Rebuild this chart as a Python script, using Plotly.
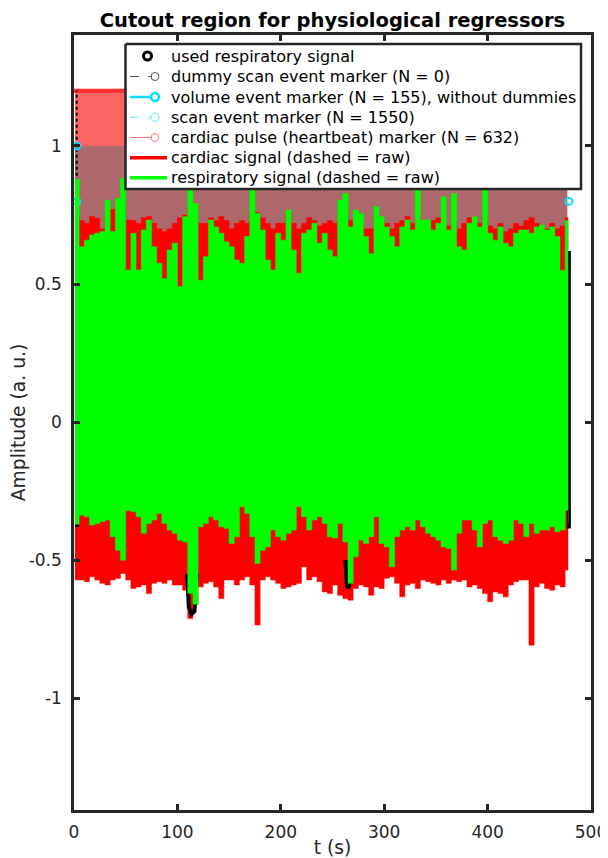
import plotly.graph_objects as go

# ---- sampling grid of the envelopes (s) ----
t_grid = [1, 5, 10, 15, 20, 25, 30, 35, 40, 45, 50, 55, 60, 65, 70, 75, 80, 85, 90, 95,
          100, 105, 110, 115, 120, 125, 130, 135, 140, 145, 150, 155, 160, 165, 170, 175,
          180, 185, 190, 195, 200, 205, 210, 215, 220, 225, 230, 235, 240, 245, 250, 255,
          260, 265, 270, 275, 280, 285, 290, 295, 300, 305, 310, 315, 320, 325, 330, 335,
          340, 345, 350, 355, 360, 365, 370, 375, 380, 385, 390, 395, 400, 405, 410, 415,
          420, 425, 430, 435, 440, 445, 450, 455, 460, 465, 470, 475, 478]

# respiratory signal envelope (green)
resp_upper = [0.88, 0.635, 0.659, 0.678, 0.684, 0.69, 0.804, 0.69, 0.81, 0.883, 0.551, 0.684,
              0.551, 0.696, 0.732, 0.635, 0.575, 0.52, 0.623, 0.648, 0.491, 0.744, 0.853, 0.792,
              0.514, 0.599, 0.732, 0.707, 0.684, 0.653, 0.635, 0.587, 0.575, 0.672, 0.841, 0.756,
              0.696, 0.587, 0.551, 0.684, 0.659, 0.768, 0.623, 0.539, 0.684, 0.696, 0.72, 0.648,
              0.684, 0.623, 0.599, 0.804, 0.828, 0.707, 0.768, 0.756, 0.672, 0.611, 0.78, 0.744,
              0.707, 0.672, 0.635, 0.707, 0.732, 0.696, 0.841, 0.732, 0.732, 0.696, 0.72, 0.816,
              0.696, 0.828, 0.635, 0.623, 0.72, 0.744, 0.707, 0.841, 0.684, 0.659, 0.707, 0.648,
              0.635, 0.684, 0.696, 0.696, 0.684, 0.707, 0.714, 0.696, 0.707, 0.672, 0.55, 0.73, 0.73]
resp_lower = [-0.37, -0.337, -0.343, -0.373, -0.367, -0.36, -0.355, -0.415, -0.464, -0.5, -0.32,
              -0.325, -0.343, -0.403, -0.367, -0.355, -0.331, -0.367, -0.391, -0.403, -0.428,
              -0.434, -0.62, -0.66, -0.379, -0.367, -0.343, -0.355, -0.379, -0.385, -0.44,
              -0.415, -0.307, -0.331, -0.415, -0.512, -0.464, -0.452, -0.391, -0.415, -0.428,
              -0.403, -0.391, -0.307, -0.343, -0.391, -0.355, -0.343, -0.367, -0.415, -0.42,
              -0.367, -0.434, -0.584, -0.488, -0.428, -0.44, -0.415, -0.343, -0.44, -0.452,
              -0.524, -0.415, -0.391, -0.379, -0.391, -0.355, -0.379, -0.403, -0.415, -0.428,
              -0.452, -0.458, -0.536, -0.403, -0.355, -0.355, -0.391, -0.452, -0.367, -0.355,
              -0.415, -0.428, -0.44, -0.428, -0.355, -0.367, -0.415, -0.367, -0.403, -0.391,
              -0.391, -0.379, -0.397, -0.391, -0.319, -0.367]

# cardiac signal envelope (red)
card_upper = [0.75, 0.73, 0.72, 0.745, 0.738, 0.70, 0.745, 0.77, 0.78, 0.80, 0.732, 0.73, 0.72,
              0.74, 0.745, 0.72, 0.70, 0.69, 0.70, 0.72, 0.74, 0.75, 0.78, 0.76, 0.72, 0.72, 0.74,
              0.73, 0.745, 0.73, 0.70, 0.72, 0.73, 0.72, 0.76, 0.76, 0.74, 0.72, 0.70, 0.72, 0.72,
              0.76, 0.72, 0.70, 0.72, 0.74, 0.73, 0.71, 0.72, 0.73, 0.72, 0.76, 0.76, 0.73, 0.72,
              0.72, 0.70, 0.70, 0.74, 0.73, 0.72, 0.70, 0.72, 0.73, 0.745, 0.72, 0.74, 0.73, 0.72,
              0.73, 0.74, 0.72, 0.71, 0.73, 0.70, 0.72, 0.74, 0.73, 0.72, 0.75, 0.71, 0.70, 0.72,
              0.69, 0.70, 0.72, 0.71, 0.73, 0.74, 0.72, 0.71, 0.70, 0.72, 0.70, 0.71, 0.74, 0.74]
card_lower = [-0.572, -0.572, -0.578, -0.56, -0.572, -0.584, -0.59, -0.572, -0.566, -0.548,
              -0.572, -0.603, -0.597, -0.59, -0.621, -0.584, -0.578, -0.584, -0.572, -0.59,
              -0.59, -0.609, -0.711, -0.66, -0.597, -0.584, -0.578, -0.597, -0.639, -0.572,
              -0.572, -0.59, -0.572, -0.56, -0.59, -0.735, -0.572, -0.56, -0.572, -0.584,
              -0.603, -0.597, -0.59, -0.584, -0.524, -0.572, -0.56, -0.578, -0.615, -0.621,
              -0.59, -0.627, -0.639, -0.645, -0.603, -0.59, -0.597, -0.627, -0.597, -0.603,
              -0.566, -0.56, -0.584, -0.633, -0.59, -0.584, -0.603, -0.572, -0.578, -0.584,
              -0.59, -0.572, -0.584, -0.572, -0.578, -0.572, -0.597, -0.59, -0.603, -0.621,
              -0.651, -0.615, -0.621, -0.633, -0.59, -0.578, -0.572, -0.572, -0.808, -0.597,
              -0.584, -0.603, -0.609, -0.59, -0.597, -0.536, -0.536]

# event marker stems (dense, read as bands)
marker_span_t = [1, 477]
cardiac_pulse_level = [1.2, 1.2]
volume_level = [1.0, 1.0]
cyan_marker_t = [2.6, 2.6, 478.6]
cyan_marker_v = [1.0, 0.8, 0.8]
start_line_t = [2.6, 2.6]
start_line_v = [0.74, 1.2]

# used respiratory signal (visible parts)
used_resp_t = [3.0, 3.0, None, 109.5, 111, 113.5, 116.5, 119, None, 262.5, 264, 266, 267.5,
               None, 478.6, 478.6]
used_resp_v = [0.6, -0.38, None, -0.55, -0.67, -0.695, -0.685, -0.55, None, -0.5, -0.595,
               -0.60, -0.5, None, 0.62, -0.385]

legend_names = ["used respiratory signal",
                "dummy scan event marker (N = 0)",
                "volume event marker (N = 155), without dummies",
                "scan event marker (N = 1550)",
                "cardiac pulse (heartbeat) marker (N = 632)",
                "cardiac signal (dashed = raw)",
                "respiratory signal (dashed = raw)"]

FONT = "DejaVu Sans"
DARK = "#262626"
CYAN = "rgb(0,225,255)"
LCYAN = "rgb(150,240,255)"
LRED = "rgb(255,120,120)"

fig = go.Figure()
skip = dict(showlegend=False, hoverinfo="skip")

# marker stem bands
fig.add_trace(go.Scatter(x=marker_span_t, y=cardiac_pulse_level, mode="lines", fill="tozeroy",
                         fillcolor="rgb(255,100,100)", line=dict(width=0), **skip))
fig.add_trace(go.Scatter(x=marker_span_t, y=volume_level, mode="lines", fill="tozeroy",
                         fillcolor="rgb(172,104,106)", line=dict(width=0), **skip))
fig.add_trace(go.Scatter(x=[marker_span_t[0] - 1.5, marker_span_t[1]], y=cardiac_pulse_level,
                         mode="lines", line=dict(color="rgb(255,45,45)", width=4), **skip))
fig.add_trace(go.Scatter(x=start_line_t, y=start_line_v, mode="lines",
                         line=dict(color="black", width=2, dash="dot"), **skip))
fig.add_trace(go.Scatter(x=cyan_marker_t, y=cyan_marker_v, mode="markers", cliponaxis=False,
                         marker=dict(symbol="circle-open", size=7, color=CYAN,
                                     line=dict(width=2)), **skip))

# cardiac signal band
fig.add_trace(go.Scatter(x=t_grid, y=card_lower, mode="lines",
                         line=dict(width=0.5, color="#FF0000", shape="hv"), **skip))
fig.add_trace(go.Scatter(x=t_grid, y=card_upper, mode="lines", fill="tonexty", fillcolor="#FF0000",
                         line=dict(width=0.5, color="#FF0000", shape="hv"), **skip))

# used respiratory signal
fig.add_trace(go.Scatter(x=used_resp_t, y=used_resp_v, mode="lines",
                         line=dict(color="black", width=4), **skip))

# respiratory signal band
fig.add_trace(go.Scatter(x=t_grid, y=resp_lower, mode="lines",
                         line=dict(width=0.5, color="#00FF00", shape="hv"), **skip))
fig.add_trace(go.Scatter(x=t_grid, y=resp_upper, mode="lines", fill="tonexty", fillcolor="#00FF00",
                         line=dict(width=0.5, color="#00FF00", shape="hv"), **skip))

# ---- hand-drawn legend on a pixel-mapped overlay axis (page pixel coordinates) ----
L_BOX = dict(x0=125.5, x1=581, y0=44, y1=189)
row_y = [56, 76.5, 97, 117.3, 137.5, 157.7, 177.7]
text_x = 169
sym_line = (130, 152)
sym_long = (130, 167)
sym_mark = 155
ov = dict(xaxis="x2", yaxis="y2", **skip)

fig.add_trace(go.Scatter(x=[L_BOX["x0"], L_BOX["x1"], L_BOX["x1"], L_BOX["x0"], L_BOX["x0"]],
                         y=[L_BOX["y0"], L_BOX["y0"], L_BOX["y1"], L_BOX["y1"], L_BOX["y0"]],
                         mode="lines", fill="toself", fillcolor="white",
                         line=dict(color=DARK, width=2.5), **ov))

# row 0: used respiratory signal (marker only)
fig.add_trace(go.Scatter(x=[147.5], y=[row_y[0]], mode="markers",
                         marker=dict(symbol="circle-open", size=8, color="black", line=dict(width=3)), **ov))
# rows 1-4: stem style entries (line + circle at the end)
stem_styles = [("#555555", 1, "dash", 1), (CYAN, 2.5, "solid", 2.5),
               (LCYAN, 1.5, "dash", 1.5), (LRED, 1, "solid", 1)]
for r, (col, lw, dash, mw) in zip(row_y[1:5], stem_styles):
    fig.add_trace(go.Scatter(x=list(sym_line), y=[r, r], mode="lines",
                             line=dict(color=col, width=lw, dash=dash), **ov))
    fig.add_trace(go.Scatter(x=[sym_mark], y=[r], mode="markers",
                             marker=dict(symbol="circle-open", size=8, color=col, line=dict(width=mw)), **ov))
# rows 5-6: thick signal lines
for r, col in zip(row_y[5:], ["#FF0000", "#00FF00"]):
    fig.add_trace(go.Scatter(x=list(sym_long), y=[r, r], mode="lines",
                             line=dict(color=col, width=3.5), **ov))

annotations = [dict(text=name, x=text_x, y=r, xref="x2", yref="y2", xanchor="left",
                    yanchor="middle", showarrow=False,
                    font=dict(family=FONT, size=16, color="black"))
               for name, r in zip(legend_names, row_y)]

axis_common = dict(showline=True, linewidth=2.5, linecolor=DARK, mirror="ticks",
                   ticks="inside", ticklen=6, tickwidth=2.5, tickcolor=DARK,
                   showgrid=False, zeroline=False, automargin=False,
                   tickfont=dict(family=FONT, size=17, color=DARK))

# the page body adds an 8 px offset, so the figure is 8 px smaller and shifted margins
FIG_W, FIG_H = 600, 850
fig.update_layout(
    width=FIG_W, height=FIG_H,
    margin=dict(l=66, r=17, t=27, b=48),
    paper_bgcolor="white", plot_bgcolor="white",
    font=dict(family=FONT, color=DARK),
    showlegend=False,
    title=dict(text="Cutout region for physiological regressors", x=0.5, xref="paper",
               y=1 - 12 / FIG_H, yref="container", yanchor="middle", xanchor="center",
               font=dict(family=FONT, size=19.5, color="black", weight="bold")),
    xaxis=dict(range=[0, 500], tickvals=[0, 100, 200, 300, 400, 500], ticklabelstandoff=5,
               title=dict(text="t (s)", font=dict(family=FONT, size=18.7, color=DARK), standoff=2),
               **axis_common),
    yaxis=dict(range=[-1.405, 1.402], tickvals=[-1, -0.5, 0, 0.5, 1],
               ticktext=["-1", "-0.5", "0", "0.5", "1"], ticklabelstandoff=6,
               title=dict(text="Amplitude (a. u.)", font=dict(family=FONT, size=18.7, color=DARK), standoff=2),
               **axis_common),
    xaxis2=dict(overlaying="x", anchor="y2", range=[74, 591], visible=False, fixedrange=True),
    yaxis2=dict(overlaying="y", anchor="x2", range=[810, 35], visible=False, fixedrange=True),
    annotations=annotations,
)

fig.write_html("out.html")
